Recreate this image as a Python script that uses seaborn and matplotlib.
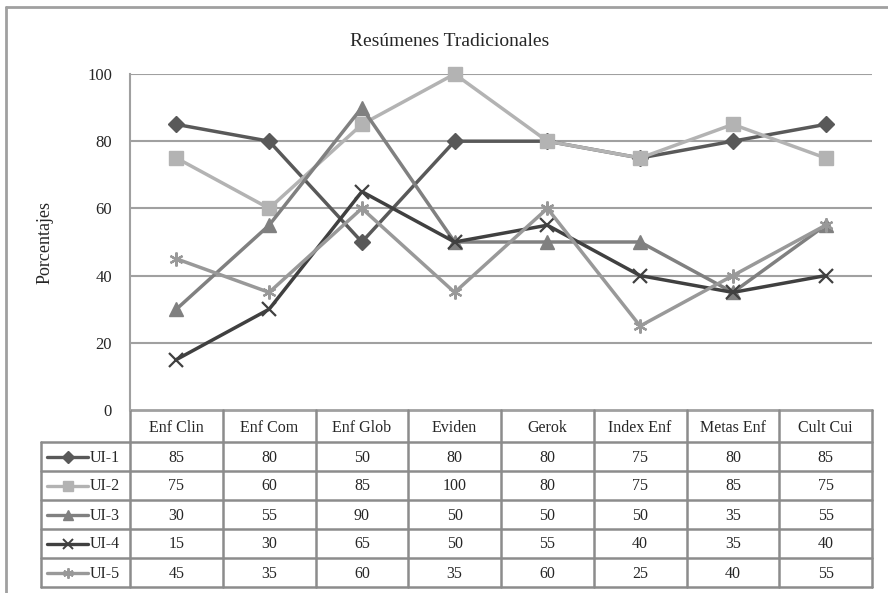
import matplotlib
matplotlib.use("Agg")
import matplotlib.pyplot as plt
import seaborn as sns
import numpy as np
import pandas as pd
from matplotlib.lines import Line2D

categories = ["Enf Clin", "Enf Com", "Enf Glob", "Eviden", "Gerok", "Index Enf", "Metas Enf", "Cult Cui"]
series_names = ["UI-1", "UI-2", "UI-3", "UI-4", "UI-5"]
ui1 = [85, 80, 50, 80, 80, 75, 80, 85]
ui2 = [75, 60, 85, 100, 80, 75, 85, 75]
ui3 = [30, 55, 90, 50, 50, 50, 35, 55]
ui4 = [15, 30, 65, 50, 55, 40, 35, 40]
ui5 = [45, 35, 60, 35, 60, 25, 40, 55]
yticks = [0, 20, 40, 60, 80, 100]

values = [ui1, ui2, ui3, ui4, ui5]
colors = ["#595959", "#b3b3b3", "#808080", "#404040", "#999999"]
markers = ["D", "s", "^", "x", (6, 2, 0)]
msizes = [8.5, 10.5, 10.5, 10, 10]

rows = []
for name, vals in zip(series_names, values):
    for i, v in enumerate(vals):
        rows.append({"pos": i, "cat": categories[i], "serie": name, "valor": v})
df = pd.DataFrame(rows)

sns.set_style("white")
plt.rcParams["font.family"] = ["Liberation Serif", "DejaVu Serif"]

W, H = 888, 593
fig = plt.figure(figsize=(W / 100, H / 100), dpi=100)

# plot area in pixel coords
px_left, px_right, px_top, px_bottom = 130, 872, 74, 410
ax = fig.add_axes([px_left / W, 1 - px_bottom / H, (px_right - px_left) / W, (px_bottom - px_top) / H])
ax.set_facecolor("none")

grid_c = "#a0a0a0"
for t in yticks[1:]:
    ax.axhline(t, color=grid_c, lw=1.5, zorder=0)

for k, name in enumerate(series_names):
    sub = df[df["serie"] == name]
    sns.lineplot(data=sub, x="pos", y="valor", ax=ax, color=colors[k], lw=2.5,
                 marker=markers[k], markersize=msizes[k], markeredgecolor=colors[k],
                 markeredgewidth=1.6 if k in (3, 4) else 1, legend=False, zorder=3 + k,
                 clip_on=False)

ax.set_xlim(-0.5, len(categories) - 0.5)
ax.set_ylim(0, 100)
ax.set_yticks(yticks)
ax.set_yticklabels([str(t) for t in yticks], fontsize=12)
ax.tick_params(axis="y", length=0, pad=13)
ax.set_xticks([])
ax.set_xlabel("")
ax.set_ylabel("")
for s in ["top", "right", "bottom"]:
    ax.spines[s].set_visible(False)
ax.spines["left"].set_color(grid_c)
ax.spines["left"].set_linewidth(1.5)

# overlay in pixel coordinates for title, border and data table
ov = fig.add_axes([0, 0, 1, 1], zorder=-1)
ov.set_xlim(0, W)
ov.set_ylim(H, 0)
ov.axis("off")

ov.plot([6, 6], [7, H], color=grid_c, lw=2)
ov.plot([6, W], [7, 7], color=grid_c, lw=2)

ov.text(450, 42, "Resúmenes Tradicionales", ha="center", va="center", fontsize=14)
ov.text(45, (px_top + px_bottom) / 2, "Porcentajes", ha="center", va="center", rotation=90, fontsize=13)

tab_c = "#8c8c8c"
n = len(categories)
colw = (px_right - px_left) / n
header_bot = 442
row_h = 29
leg_left = 41
table_bot = header_bot + row_h * len(series_names)

ov.plot([px_left, px_right], [px_bottom, px_bottom], color=grid_c, lw=2)
for r in range(len(series_names) + 1):
    y = header_bot + r * row_h
    ov.plot([leg_left, px_right], [y, y], color=tab_c, lw=1.8)
ov.plot([leg_left, leg_left], [header_bot, table_bot], color=tab_c, lw=1.8)
for c in range(n + 1):
    x = px_left + c * colw
    ov.plot([x, x], [px_bottom, table_bot], color=tab_c, lw=1.8)

for c, cat in enumerate(categories):
    ov.text(px_left + (c + 0.5) * colw, (px_bottom + header_bot) / 2 + 2, cat,
            ha="center", va="center", fontsize=11.5)

for r, (name, vals) in enumerate(zip(series_names, values)):
    yc = header_bot + (r + 0.5) * row_h
    ov.add_line(Line2D([47, 88], [yc, yc], color=colors[r], lw=2.4))
    ov.add_line(Line2D([67.5], [yc], color=colors[r], marker=markers[r], markersize=msizes[r] * 0.75,
                       markeredgecolor=colors[r], markeredgewidth=1.4 if r in (3, 4) else 1))
    ov.text(90, yc + 1, name, ha="left", va="center", fontsize=11.5)
    for c, v in enumerate(vals):
        ov.text(px_left + (c + 0.5) * colw, yc + 1, str(v), ha="center", va="center", fontsize=11.5)

fig.savefig("out.png", dpi=100)
